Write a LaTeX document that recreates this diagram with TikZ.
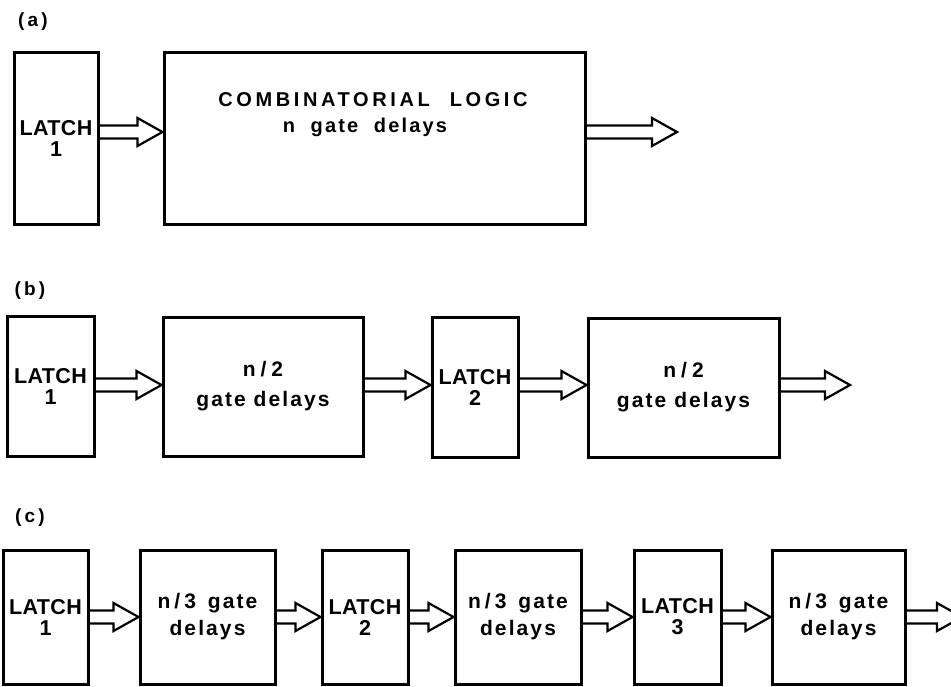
\documentclass[tikz,border=0pt]{standalone}
\usepackage{fontspec}
\setmainfont{Liberation Sans}[LetterSpace=10, BoldFont={Liberation Sans Bold}]
\usetikzlibrary{calc}
\tikzset{
  x=1pt, y=-1pt,
  blk/.style={draw, line width=3pt, inner sep=0pt, align=center,
    font=\bfseries\fontsize{21}{27}\selectfont},
  latch/.style={blk, font=\bfseries\fontsize{21.5}{21}\selectfont\addfontfeature{LetterSpace=2}},
  fatline/.style={line width=2.2pt, line join=miter},
  tag/.style={font=\bfseries\fontsize{19}{20}\selectfont}
}
\newcommand\fatarr[2]{%
  \draw[fatline] let \p1=(#1), \p2=(#2) in
    (\x1,{\y1+6.5pt}) -- ({\x2-25pt},{\y1+6.5pt}) -- ({\x2-25pt},{\y1+14pt})
    -- (\x2,\y1) -- ({\x2-25pt},{\y1-14pt}) -- ({\x2-25pt},{\y1-6.5pt}) -- (\x1,{\y1-6.5pt});}
\newcommand\nthree{n\kern4pt/\kern4pt3\kern4pt\ gate}
\newcommand\ntwo{n\kern5pt/\kern5pt2}
\begin{document}
\begin{tikzpicture}
\clip (0,0) rectangle (951,686);
% (a)
\node[tag] (ta) at (33,22) {(\,a\,)};
\node[latch, minimum width=84pt, minimum height=172pt] (L1a) at (56,138) {LATCH\\1};
\node[blk, minimum width=421pt, minimum height=172pt] (C1a) at (374.5,138) {};
\node[font=\bfseries\fontsize{20}{26}\selectfont\addfontfeature{LetterSpace=18}, align=center, inner sep=0pt] (T1a) at (373,115)
  {COMBINATORIAL\quad LOGIC\\{\addfontfeature{LetterSpace=11}n\ \ gate\ \ delays\hspace*{16pt}}};
\coordinate (ya) at (0,132);
\coordinate (oa) at (677,132);
\fatarr{L1a.east |- ya}{C1a.west |- ya}
\fatarr{C1a.east |- ya}{oa}
% (b)
\node[tag] (tb) at (30,291) {(\,b\,)};
\node[latch, minimum width=87pt, minimum height=140pt] (L1b) at (50.5,386) {LATCH\\1};
\node[blk, minimum width=200pt, minimum height=139pt, font=\bfseries\fontsize{21}{30}\selectfont] (B1b) at (263,386.5) {\ntwo\\gate\ delays};
\node[latch, minimum width=86pt, minimum height=140pt] (L2b) at (475,387) {LATCH\\2};
\node[blk, minimum width=191pt, minimum height=139pt, font=\bfseries\fontsize{21}{30}\selectfont] (B2b) at (683.5,387.5) {\ntwo\\gate\ delays};
\coordinate (yb) at (0,385);
\coordinate (ob) at (850,385);
\fatarr{L1b.east |- yb}{B1b.west |- yb}
\fatarr{B1b.east |- yb}{L2b.west |- yb}
\fatarr{L2b.east |- yb}{B2b.west |- yb}
\fatarr{B2b.east |- yb}{ob}
% (c)
\node[tag] (tc) at (30,518) {(\,c\,)};
\node[latch, minimum width=85pt, minimum height=134pt] (L1c) at (45.5,617) {LATCH\\1};
\node[blk, minimum width=135pt, minimum height=134pt] (B1c) at (207.5,617) {\nthree\\delays};
\node[latch, minimum width=86pt, minimum height=134pt] (L2c) at (365,617) {LATCH\\2};
\node[blk, minimum width=126pt, minimum height=134pt] (B2c) at (518,617) {\nthree\\delays};
\node[latch, minimum width=87pt, minimum height=134pt] (L3c) at (677.5,617) {LATCH\\3};
\node[blk, minimum width=133pt, minimum height=134pt] (B3c) at (838.5,617) {\nthree\\delays};
\coordinate (yc) at (0,617);
\coordinate (oc) at (962,617);
\fatarr{L1c.east |- yc}{B1c.west |- yc}
\fatarr{B1c.east |- yc}{L2c.west |- yc}
\fatarr{L2c.east |- yc}{B2c.west |- yc}
\fatarr{B2c.east |- yc}{L3c.west |- yc}
\fatarr{L3c.east |- yc}{B3c.west |- yc}
\fatarr{B3c.east |- yc}{oc}
\end{tikzpicture}
\end{document}
